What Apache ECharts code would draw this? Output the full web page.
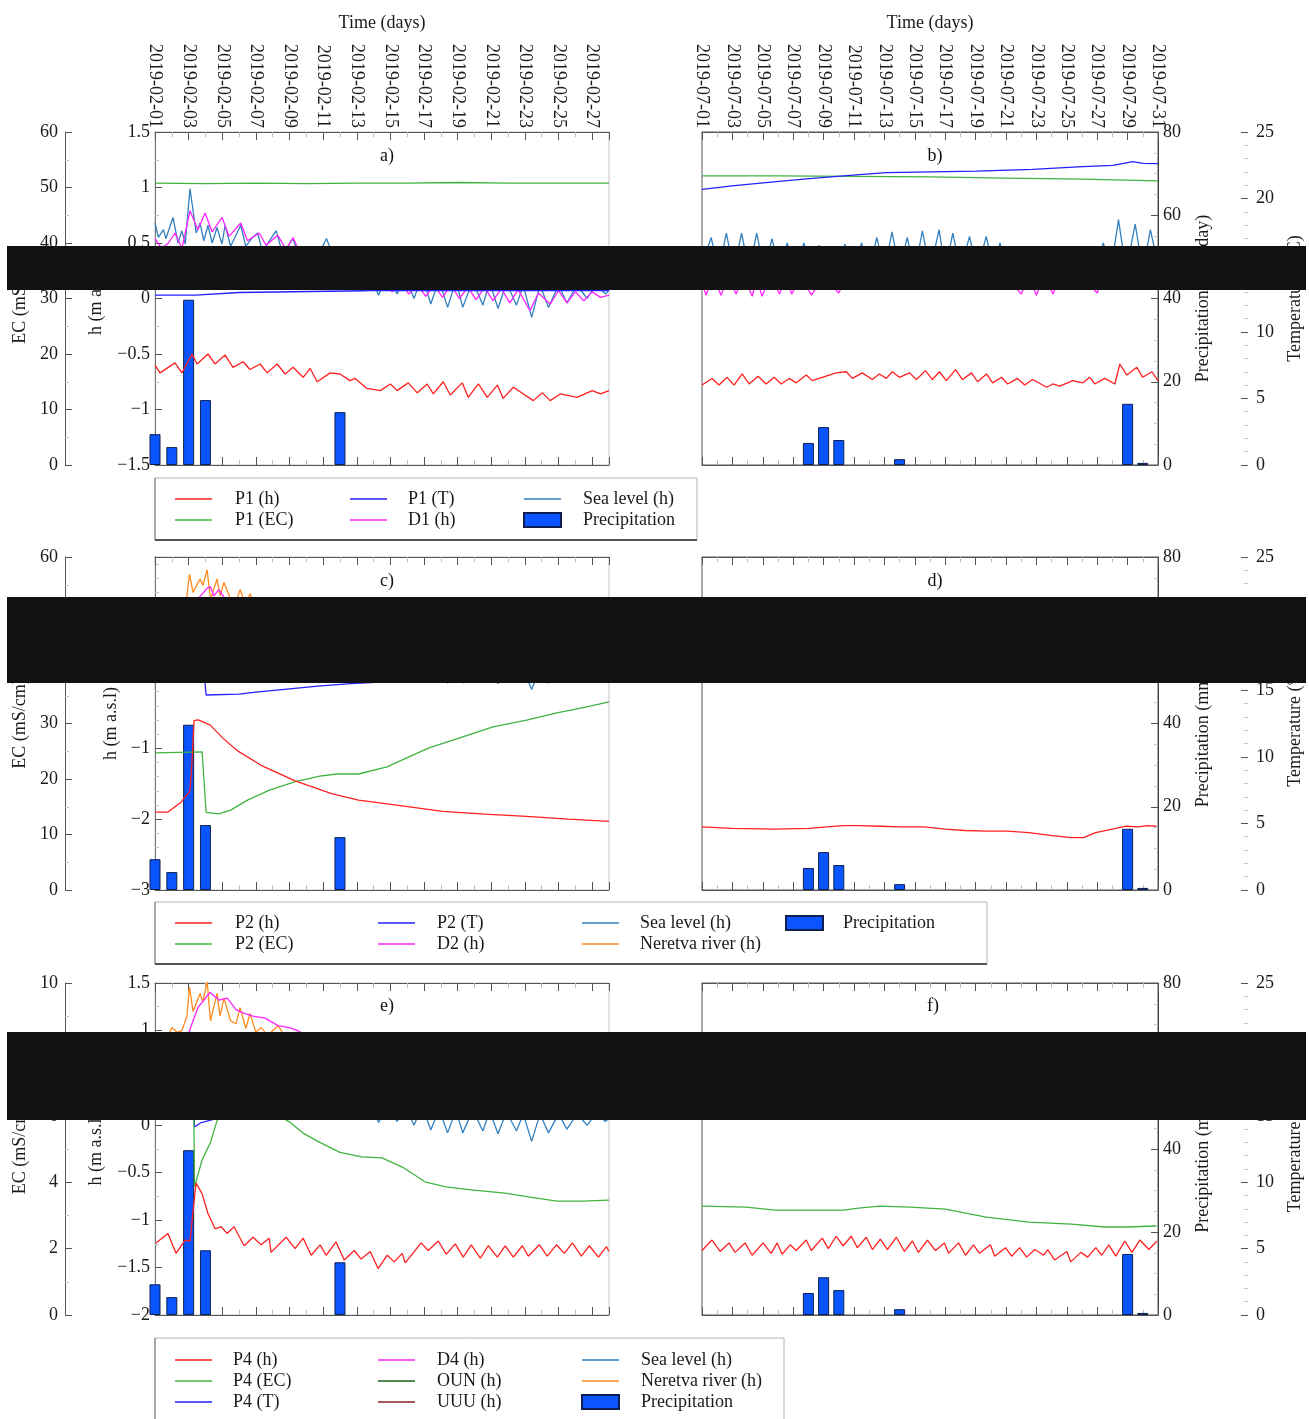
<!DOCTYPE html>
<html>
<head>
<meta charset="utf-8">
<script src="https://cdn.jsdelivr.net/npm/echarts/dist/echarts.min.js"></script>
<style>
  html, body { margin: 0; padding: 0; background: #fff; }
  #chart { width: 1309px; height: 1419px; }
</style>
</head>
<body>
<div id="chart"></div>
<script>
// tick labels of the top time axes
var febTickLabels = ['2019-02-01','2019-02-03','2019-02-05','2019-02-07','2019-02-09','2019-02-11','2019-02-13',
  '2019-02-15','2019-02-17','2019-02-19','2019-02-21','2019-02-23','2019-02-25','2019-02-27'];
var julTickLabels = ['2019-07-01','2019-07-03','2019-07-05','2019-07-07','2019-07-09','2019-07-11','2019-07-13',
  '2019-07-15','2019-07-17','2019-07-19','2019-07-21','2019-07-23','2019-07-25','2019-07-27','2019-07-29','2019-07-31'];

// x = days since the first day of the month
// precipitation (mm/day)
var febRain = [[0, 7.4], [1, 4.3], [2, 39.7], [3, 15.6], [11, 12.7]];
var julRain = [[7, 5.3], [8, 9.1], [9, 6.0], [13, 1.4], [28, 14.7], [29, 0.5]];

// sea level (h)
var seaFeb = [[0,0.68],[0.2,0.55],[0.5,0.62],[0.65,0.54],[1.07,0.73],[1.37,0.50],[1.6,0.61],[1.8,0.49],[2.08,0.99],
  [2.45,0.59],[2.68,0.68],[2.9,0.52],[3.15,0.66],[3.4,0.50],[3.69,0.64],[3.98,0.49],[4.17,0.66],[4.5,0.47],[5.1,0.66],
  [5.4,0.47],[5.8,0.55],[6.1,0.59],[6.4,0.42],[6.8,0.52],[7.2,0.61],[7.6,0.40],[8.2,0.54],[8.6,0.36],[9.0,0.45],
  [9.3,0.30],[9.8,0.42],[10.2,0.54],[10.6,0.38],[10.9,0.46],[11.3,0.28],[11.8,0.32],[12.2,0.15],[12.7,0.25],
  [13.3,0.03],[13.8,0.22],[14.4,0.04],[14.9,0.2],[15.4,0.0],[15.9,0.2],[16.4,-0.05],[16.9,0.17],[17.4,-0.08],
  [17.9,0.16],[18.3,-0.08],[18.9,0.16],[19.5,-0.06],[19.9,0.15],[20.4,-0.09],[20.9,0.14],[21.5,-0.06],[21.9,0.12],
  [22.4,-0.17],[22.9,0.12],[23.4,-0.08],[24.0,0.12],[24.5,-0.04],[25.1,0.12],[25.7,0.0],[26.2,0.12],[26.8,0.04],[27,0.08]];
var seaJul = [[0,0.3],[0.6,0.55],[1.1,0.25],[1.6,0.59],[2.1,0.25],[2.6,0.59],[3.1,0.25],[3.6,0.59],[4.1,0.25],[4.6,0.54],
  [5.1,0.25],[5.6,0.50],[6.2,0.25],[6.7,0.50],[7.2,0.25],[7.7,0.48],[8.2,0.25],[8.6,0.46],[9.0,0.25],[9.4,0.49],
  [10.0,0.25],[10.5,0.50],[11.0,0.25],[11.5,0.55],[12.0,0.25],[12.5,0.60],[13.0,0.25],[13.5,0.55],[14.0,0.25],
  [14.5,0.61],[15.0,0.25],[15.6,0.62],[16.0,0.25],[16.5,0.59],[17.0,0.25],[17.6,0.56],[18.1,0.25],[18.7,0.56],
  [19.2,0.25],[19.6,0.50],[20.1,0.25],[20.6,0.44],[21.1,0.25],[21.6,0.42],[22.1,0.25],[22.6,0.40],[23.1,0.25],
  [23.6,0.40],[24.1,0.25],[24.6,0.42],[25.1,0.25],[25.5,0.44],[25.9,0.25],[26.4,0.50],[26.9,0.25],[27.4,0.71],
  [27.9,0.25],[28.5,0.67],[29.0,0.25],[29.5,0.62],[30,0.3]];

// Neretva river (h), February
var neretvaFeb = [[0,0.8],[0.5,0.85],[1.01,1.03],[1.31,0.98],[1.6,1.0],[1.9,1.15],[2.05,1.46],[2.26,1.2],[2.68,1.39],
  [2.85,1.3],[3.1,1.52],[3.3,1.1],[3.69,1.39],[3.87,1.15],[4.1,1.34],[4.5,1.1],[4.82,1.07],[5.06,1.24],[5.4,1.02],
  [5.65,1.18],[6.0,0.98],[6.31,1.03],[6.7,0.95],[7.32,1.05],[7.8,0.92],[8.5,0.95],[9.5,0.85],[11,0.78],[13,0.7],
  [16,0.6],[20,0.52],[24,0.46],[27,0.42]];

// P1 / D1, February
var p1hFeb = [[0,-0.60],[0.3,-0.67],[1.19,-0.58],[1.6,-0.67],[2.2,-0.50],[2.5,-0.59],[3.15,-0.50],[3.57,-0.59],
  [4.17,-0.51],[4.64,-0.62],[5.24,-0.57],[5.65,-0.64],[6.25,-0.59],[6.67,-0.67],[7.26,-0.59],[7.74,-0.68],[8.21,-0.62],
  [8.81,-0.71],[9.23,-0.63],[9.64,-0.75],[10.42,-0.67],[11.0,-0.68],[11.6,-0.74],[11.9,-0.72],[12.6,-0.81],[13.4,-0.83],
  [14.0,-0.77],[14.4,-0.83],[15.06,-0.76],[15.6,-0.85],[16.19,-0.77],[16.55,-0.86],[17.14,-0.75],[17.56,-0.87],
  [18.27,-0.76],[18.63,-0.89],[19.23,-0.77],[19.76,-0.89],[20.36,-0.78],[20.71,-0.90],[21.31,-0.80],[22.5,-0.92],
  [23.04,-0.85],[23.5,-0.92],[24.1,-0.86],[25.1,-0.89],[26.0,-0.83],[26.5,-0.86],[27.0,-0.83]];
var p1ecFeb = [[0,50.8],[3,50.7],[6,50.8],[9,50.7],[12,50.8],[15,50.8],[18,50.9],[21,50.8],[24,50.8],[27,50.8]];
var p1tFeb = [[0,12.75],[2.4,12.75],[2.5,12.9],[5.0,12.95],[5.1,13.05],[12.5,13.08],[13,13.12],[27,13.1]];
var d1hFeb = [[0,0.54],[0.4,0.45],[0.8,0.5],[1.19,0.59],[1.6,0.45],[2.08,0.79],[2.55,0.62],[2.98,0.77],[3.4,0.60],
  [3.99,0.73],[4.4,0.56],[5.1,0.68],[5.5,0.52],[6.2,0.59],[6.6,0.48],[7.3,0.57],[7.8,0.44],[8.21,0.55],[8.7,0.38],
  [9.3,0.42],[9.9,0.32],[10.5,0.34],[11.0,0.24],[11.6,0.26],[12.1,0.16],[12.6,0.2],[13.1,0.08],[13.6,0.16],[14.1,0.06],
  [14.6,0.14],[15.1,0.04],[15.6,0.13],[16.1,0.02],[16.6,0.12],[17.1,0.01],[17.6,0.12],[18.1,0.0],[18.6,0.1],
  [19.1,-0.01],[19.6,0.1],[20.1,-0.02],[20.6,0.09],[21.1,-0.04],[21.6,0.08],[22.3,-0.11],[22.8,0.05],[23.5,-0.05],
  [24.0,0.07],[24.5,-0.04],[25.0,0.06],[25.5,-0.02],[26.0,0.06],[26.5,0.01],[27,0.03]];

// P1 / D1, July
var p1hJul = [[0,-0.78],[0.66,-0.72],[1.12,-0.78],[1.65,-0.71],[2.11,-0.78],[2.64,-0.68],[3.1,-0.77],[3.69,-0.70],
  [4.22,-0.77],[4.75,-0.71],[5.21,-0.77],[5.74,-0.72],[6.2,-0.76],[6.86,-0.69],[7.25,-0.74],[7.91,-0.71],[8.83,-0.67],
  [9.49,-0.66],[9.89,-0.72],[10.55,-0.67],[11.2,-0.73],[11.67,-0.68],[12.13,-0.72],[12.52,-0.66],[12.99,-0.71],
  [13.65,-0.67],[14.11,-0.73],[14.7,-0.65],[15.16,-0.73],[15.62,-0.66],[16.08,-0.74],[16.68,-0.64],[17.14,-0.73],
  [17.73,-0.67],[18.13,-0.75],[18.72,-0.68],[19.12,-0.76],[19.71,-0.71],[20.11,-0.77],[20.76,-0.72],[21.23,-0.78],
  [21.75,-0.73],[22.68,-0.80],[23.07,-0.77],[23.53,-0.79],[24.39,-0.74],[25.05,-0.76],[25.51,-0.71],[25.84,-0.77],
  [26.5,-0.72],[27.16,-0.77],[27.49,-0.59],[27.95,-0.69],[28.61,-0.62],[29.0,-0.71],[29.6,-0.66],[30.0,-0.74]];
var p1ecJul = [[0,52.1],[5,52.1],[10,52.0],[15,51.9],[20,51.7],[25,51.5],[30,51.2]];
var p1tJul = [[0,20.7],[1.98,20.95],[4.88,21.27],[7.05,21.5],[10.35,21.8],[12.13,21.95],[18.06,22.07],[21.75,22.2],
  [25.05,22.4],[27.03,22.5],[28.35,22.77],[29.0,22.65],[30,22.62]];
var d1hJul = [[0,0.15],[0.26,0.03],[0.75,0.2],[1.25,0.03],[1.75,0.2],[2.24,0.04],[2.75,0.2],[3.3,0.02],[3.6,0.18],
  [3.95,0.02],[4.5,0.2],[5.1,0.04],[5.5,0.2],[5.9,0.04],[6.5,0.2],[7.2,0.03],[8,0.2],[9.0,0.05],[9.5,0.2],[10.5,0.12],
  [11,0.2],[12,0.12],[12.5,0.22],[13.5,0.12],[14,0.22],[15,0.12],[15.5,0.22],[16.5,0.12],[17,0.22],[18,0.12],
  [18.5,0.2],[19.5,0.12],[20,0.2],[21,0.04],[21.5,0.2],[22,0.03],[22.5,0.2],[23.1,0.04],[23.5,0.2],[24.5,0.12],
  [25,0.2],[26,0.05],[26.5,0.22],[27.5,0.14],[28,0.25],[29,0.14],[29.5,0.25],[30,0.18]];

// P2 / D2, February
var p2hFeb = [[0,-1.9],[0.77,-1.9],[1.55,-1.76],[2.08,-1.6],[2.2,-1.2],[2.32,-0.61],[2.56,-0.6],[3.27,-0.67],
  [4.05,-0.86],[4.94,-1.04],[6.31,-1.24],[8.33,-1.46],[10.5,-1.64],[12.1,-1.73],[14.6,-1.81],[17.1,-1.89],
  [19.6,-1.93],[22.1,-1.96],[24.6,-2.0],[27,-2.03]];
var p2ecFeb = [[0,24.7],[2.8,24.9],[3.04,14.0],[3.8,13.7],[4.5,14.4],[5.5,16.2],[6.8,18.0],[8.3,19.5],[9.8,20.5],
  [10.8,20.9],[12.1,20.9],[13.8,22.2],[15.1,24.0],[16.3,25.6],[18.3,27.6],[20.1,29.4],[22.1,30.6],[23.9,31.9],
  [25.4,32.8],[27,33.9]];
var p2tFeb = [[0,15.8],[2.95,15.8],[3.04,14.64],[5,14.7],[6,14.85],[9.7,15.3],[11.6,15.5],[15,15.7],[20,15.8],
  [25,15.95],[26.5,16.07],[27,16.07]];
var d2hFeb = [[0,0.7],[1,0.8],[2,0.95],[2.5,1.1],[2.9,1.2],[3.1,1.26],[3.3,1.28],[3.5,1.15],[3.8,1.24],[4.2,1.1],
  [5,1.0],[6,0.9],[8,0.7],[10,0.5],[14,0.3],[18,0.2],[22,0.1],[27,0.1]];

// P2 / D2, July
var p2hJul = [[0,-2.11],[2.0,-2.13],[4.8,-2.14],[7.05,-2.13],[8.2,-2.11],[9.3,-2.09],[10.3,-2.09],[11.7,-2.10],
  [13.1,-2.11],[14.6,-2.11],[16.0,-2.14],[17.3,-2.16],[18.7,-2.17],[20.1,-2.17],[21.5,-2.19],[22.9,-2.23],
  [24.3,-2.26],[25.1,-2.26],[25.9,-2.19],[27.0,-2.14],[27.9,-2.10],[28.7,-2.11],[29.3,-2.09],[29.9,-2.10]];
var p2ecJul = [[0,45],[15,45.5],[30,44.5]];
var p2tJul = [[0,16.4],[15,16.4],[25,16.3],[30,16.1]];
var d2hJul = [[0,0.2],[15,0.22],[30,0.2]];

// P4 / D4 / OUN / UUU, February
var p4hFeb = [[0.06,-1.24],[0.77,-1.14],[1.25,-1.35],[1.79,-1.21],[2.08,-1.22],[2.44,-0.61],[2.80,-0.72],[3.15,-0.93],
  [3.57,-1.09],[3.93,-1.07],[4.29,-1.14],[4.70,-1.07],[5.30,-1.27],[5.83,-1.18],[6.31,-1.26],[6.79,-1.19],[6.90,-1.34],
  [7.80,-1.18],[8.33,-1.30],[8.81,-1.19],[9.29,-1.37],[9.82,-1.26],[10.18,-1.37],[10.77,-1.23],[11.25,-1.42],
  [11.85,-1.32],[12.26,-1.41],[12.80,-1.33],[13.27,-1.51],[13.81,-1.37],[14.23,-1.44],[14.70,-1.35],[14.88,-1.45],
  [15.83,-1.24],[16.25,-1.32],[16.85,-1.22],[17.32,-1.36],[17.86,-1.25],[18.33,-1.39],[18.81,-1.26],[19.35,-1.40],
  [19.82,-1.27],[20.36,-1.39],[20.83,-1.27],[21.31,-1.39],[21.85,-1.27],[22.20,-1.38],[22.86,-1.26],[23.33,-1.38],
  [23.87,-1.26],[24.35,-1.35],[24.82,-1.24],[25.36,-1.38],[25.83,-1.27],[26.37,-1.39],[26.85,-1.28],[27.0,-1.33]];
var p4ecFeb = [[0,6.7],[2.3,6.7],[2.35,3.86],[2.8,4.67],[3.3,5.2],[3.7,5.87],[4.5,6.4],[6,6.4],[7,6.1],[8.05,5.8],
  [8.8,5.48],[9.8,5.2],[11.0,4.9],[12.3,4.76],[13.5,4.73],[14.8,4.43],[16.1,4.0],[17.3,3.86],[18.8,3.77],[20.8,3.67],
  [22.3,3.55],[23.9,3.43],[25.4,3.43],[27,3.46]];
var p4tFeb = [[0,15.95],[2.3,15.95],[2.35,14.15],[2.7,14.46],[3.7,14.8],[6,15.3],[8.3,15.65],[11,15.8],[27,15.82]];
var d4hFeb = [[0,0.7],[1.5,0.8],[2.0,0.95],[2.05,1.0],[2.55,1.24],[3.27,1.40],[3.81,1.32],[4.29,1.34],[4.82,1.22],
  [5.3,1.18],[5.83,1.15],[6.55,1.13],[7.32,1.05],[8.0,1.03],[8.45,1.0],[10,0.85],[13,0.7],[17,0.6],[22,0.5],[27,0.45]];
var ounFeb = [[0,0.65],[2,0.7],[3,0.8],[5,0.7],[8,0.6],[12,0.5],[16,0.5],[20,0.5],[27,0.48]];
var uuuFeb = [[0,0.6],[3,0.7],[6,0.6],[10,0.5],[15,0.45],[20,0.45],[27,0.42]];

// P4 / D4 / OUN / UUU, July
var p4hJul = [[0,-1.32],[0.66,-1.21],[1.19,-1.33],[1.78,-1.24],[2.18,-1.34],[2.83,-1.24],[3.30,-1.37],[4.02,-1.24],
  [4.55,-1.35],[4.94,-1.24],[5.27,-1.36],[5.80,-1.26],[6.20,-1.32],[6.86,-1.21],[7.19,-1.32],[7.91,-1.19],[8.31,-1.30],
  [8.83,-1.17],[9.29,-1.27],[9.82,-1.17],[10.22,-1.29],[10.81,-1.18],[11.21,-1.31],[11.73,-1.20],[12.20,-1.31],
  [12.79,-1.18],[13.32,-1.33],[13.84,-1.22],[14.24,-1.34],[14.83,-1.21],[15.36,-1.32],[15.95,-1.24],[16.22,-1.35],
  [16.88,-1.24],[17.34,-1.37],[17.86,-1.26],[18.26,-1.35],[18.98,-1.26],[19.25,-1.38],[19.97,-1.29],[20.37,-1.38],
  [20.90,-1.29],[21.36,-1.39],[21.89,-1.31],[22.48,-1.37],[22.74,-1.31],[23.20,-1.42],[24.00,-1.33],[24.26,-1.44],
  [24.92,-1.34],[25.38,-1.39],[25.91,-1.29],[26.30,-1.37],[26.76,-1.26],[27.22,-1.38],[27.82,-1.22],[28.28,-1.34],
  [28.81,-1.21],[29.40,-1.31],[29.93,-1.22]];
var p4ecJul = [[0,3.28],[2.9,3.25],[4.8,3.16],[9.3,3.16],[10.3,3.22],[11.7,3.28],[13.7,3.25],[16.0,3.19],[18.7,2.95],
  [21.5,2.8],[24.3,2.74],[26.5,2.65],[27.9,2.65],[29.9,2.68]];
var p4tJul = [[0,15.36],[5,15.36],[11.3,15.4]];
var d4hJul = [[0,0.35],[10,0.38],[20,0.33],[30,0.35]];
var ounJul = [[0,0.5],[8,0.52],[15,0.5],[22,0.48],[30,0.52]];
var uuuJul = [[0,0.44],[10,0.45],[20,0.43],[30,0.46]];

var FONT = 'Liberation Serif';
var txt = { fontFamily: FONT, fontSize: 18, color: '#1a1a1a' };
var COL = {
  red: '#ff2020', green: '#40b440', blue: '#2222ff', magenta: '#ff22ff', sea: '#3380c0',
  orange: '#ff8a1e', dkgreen: '#1e5c1e', dkred: '#8c2020', rain: '#0a55ff'
};

function fmtNum(v) {
  var s = String(Math.round(v * 100) / 100);
  return v < 0 ? '\u2212' + s.slice(1) : s;
}

var chart = echarts.init(document.getElementById('chart'));

// six panels: a b / c d / e f
var grids = [
  { left: 155, top: 132, width: 454, height: 333 },
  { left: 702, top: 132, width: 456, height: 333 },
  { left: 155, top: 557, width: 454, height: 333 },
  { left: 702, top: 557, width: 456, height: 333 },
  { left: 155, top: 983, width: 454, height: 332 },
  { left: 702, top: 983, width: 456, height: 332 }
];
grids.forEach(function (g, i) {
  g.show = true;
  g.backgroundColor = 'transparent';
  g.borderWidth = 1;
  g.borderColor = (i % 2 === 0) ? '#c4c4c4' : '#555';
});

var xAxes = [];
function addX(gi, isFeb, withLabels) {
  var labels = isFeb ? febTickLabels : julTickLabels;
  var base = {
    gridIndex: gi, type: 'value', min: 0, max: isFeb ? 27 : 30, interval: 2,
    axisLine: { show: true, onZero: false, lineStyle: { color: '#555', width: 1 } },
    axisTick: { show: true, inside: true, length: 8, lineStyle: { color: '#555' } },
    minorTick: { show: true, splitNumber: 2, length: 5, lineStyle: { color: '#bdbdbd' } },
    splitLine: { show: false }
  };
  var bottom = Object.assign({}, base, { position: 'bottom', axisLabel: { show: false } });
  var top = Object.assign({}, base, { position: 'top' });
  if (withLabels) {
    top.axisLabel = {
      show: true, rotate: 90, margin: 4, fontFamily: FONT, fontSize: 18, color: '#1a1a1a',
      formatter: function (v) { return (v % 2 === 0 && labels[v / 2]) ? labels[v / 2] : ''; }
    };
    top.name = 'Time (days)';
    top.nameLocation = 'middle';
    top.nameGap = 100;
    top.nameTextStyle = txt;
  } else {
    top.axisLabel = { show: false };
  }
  xAxes.push(bottom, top);
}

var yAxes = [];
function tickFmt(interval) {
  return function (v) {
    if (Math.abs(v / interval - Math.round(v / interval)) > 1e-6) return '';
    return fmtNum(v);
  };
}
function addY(gi, c) {
  var left = gi % 2 === 0;
  var common = function (o) {
    return Object.assign({
      gridIndex: gi, type: 'value', splitLine: { show: false },
      axisLine: { show: true, onZero: false, lineStyle: { color: '#555' } },
      axisTick: { show: true, inside: true, length: 7, lineStyle: { color: '#555' } },
      nameLocation: 'middle', nameTextStyle: txt
    }, o);
  };
  // EC
  yAxes.push(common({
    show: left, position: 'left', offset: 90, min: 0, max: c.ecMax, interval: c.ecInt,
    name: 'EC (mS/cm)', nameGap: 36,
    minorTick: { show: true, splitNumber: 2, length: 4, lineStyle: { color: '#c4c4c4' } },
    axisLabel: { margin: 7, fontFamily: FONT, fontSize: 18, color: '#1a1a1a', formatter: tickFmt(c.ecInt) }
  }));
  // h
  yAxes.push(common({
    show: left, position: 'left', min: c.hMin, max: c.hMax, interval: c.hInt,
    name: 'h (m a.s.l)', nameGap: c.hGap,
    axisLine: { show: true, onZero: false, lineStyle: { color: '#777' } },
    minorTick: { show: true, splitNumber: c.hMinor, length: 4, lineStyle: { color: '#c4c4c4' } },
    axisLabel: { margin: 5, fontFamily: FONT, fontSize: 18, color: '#1a1a1a', formatter: tickFmt(c.hInt) }
  }));
  // temperature
  yAxes.push(common({
    show: !left, position: 'right', offset: 90, min: 0, max: 25, interval: 5,
    name: 'Temperature (\u00b0C)', nameGap: 38,
    axisLine: { show: false, onZero: false },
    minorTick: { show: true, splitNumber: 5, length: 4, lineStyle: { color: '#c4c4c4' } },
    axisLabel: { margin: 8, fontFamily: FONT, fontSize: 18, color: '#1a1a1a', formatter: tickFmt(5) }
  }));
  // precipitation
  yAxes.push(common({
    show: !left, position: 'right', min: 0, max: 80, interval: 20,
    name: 'Precipitation (mm/day)', nameGap: 36,
    axisLine: { show: true, onZero: false, lineStyle: { color: '#444' } },
    minorTick: { show: true, splitNumber: 4, length: 4, lineStyle: { color: '#c4c4c4' } },
    axisLabel: { margin: 5, fontFamily: FONT, fontSize: 18, color: '#1a1a1a', formatter: tickFmt(20) }
  }));
}

var AX = { ec: 0, h: 1, t: 2, p: 3 };
var series = [];
function addLine(name, data, gi, axis, color) {
  series.push({
    type: 'line', name: name, data: data, xAxisIndex: gi * 2, yAxisIndex: gi * 4 + AX[axis],
    symbol: 'none', showSymbol: false, lineStyle: { color: color, width: 1.3 }, itemStyle: { color: color },
    z: 3
  });
}
function addRain(data, gi) {
  series.push({
    type: 'bar', name: 'Precipitation', data: data, xAxisIndex: gi * 2, yAxisIndex: gi * 4 + AX.p,
    barWidth: 11, itemStyle: { color: COL.rain, borderColor: '#0c1f4f', borderWidth: 1 }, z: 1
  });
}

var cfgAB = { ecMax: 60, ecInt: 10, hMin: -1.5, hMax: 1.5, hInt: 0.5, hMinor: 2, hGap: 50 };
var cfgCD = { ecMax: 60, ecInt: 10, hMin: -3, hMax: 1.7, hInt: 1, hMinor: 5, hGap: 35 };
var cfgEF = { ecMax: 10, ecInt: 2, hMin: -2, hMax: 1.5, hInt: 0.5, hMinor: 2, hGap: 50 };

// panel a
addX(0, true, true); addY(0, cfgAB);
addRain(febRain, 0);
addLine('P1 (EC)', p1ecFeb, 0, 'ec', COL.green);
addLine('Sea level (h)', seaFeb, 0, 'h', COL.sea);
addLine('D1 (h)', d1hFeb, 0, 'h', COL.magenta);
addLine('P1 (T)', p1tFeb, 0, 't', COL.blue);
addLine('P1 (h)', p1hFeb, 0, 'h', COL.red);
// panel b
addX(1, false, true); addY(1, cfgAB);
addRain(julRain, 1);
addLine('P1 (EC)', p1ecJul, 1, 'ec', COL.green);
addLine('Sea level (h)', seaJul, 1, 'h', COL.sea);
addLine('D1 (h)', d1hJul, 1, 'h', COL.magenta);
addLine('P1 (T)', p1tJul, 1, 't', COL.blue);
addLine('P1 (h)', p1hJul, 1, 'h', COL.red);
// panel c
addX(2, true, false); addY(2, cfgCD);
addRain(febRain, 2);
addLine('Sea level (h)', seaFeb, 2, 'h', COL.sea);
addLine('Neretva river (h)', neretvaFeb, 2, 'h', COL.orange);
addLine('D2 (h)', d2hFeb, 2, 'h', COL.magenta);
addLine('P2 (T)', p2tFeb, 2, 't', COL.blue);
addLine('P2 (EC)', p2ecFeb, 2, 'ec', COL.green);
addLine('P2 (h)', p2hFeb, 2, 'h', COL.red);
// panel d
addX(3, false, false); addY(3, cfgCD);
addRain(julRain, 3);
addLine('Sea level (h)', seaJul, 3, 'h', COL.sea);
addLine('D2 (h)', d2hJul, 3, 'h', COL.magenta);
addLine('P2 (EC)', p2ecJul, 3, 'ec', COL.green);
addLine('P2 (T)', p2tJul, 3, 't', COL.blue);
addLine('P2 (h)', p2hJul, 3, 'h', COL.red);
// panel e
addX(4, true, false); addY(4, cfgEF);
addRain(febRain, 4);
addLine('Sea level (h)', seaFeb, 4, 'h', COL.sea);
addLine('Neretva river (h)', neretvaFeb, 4, 'h', COL.orange);
addLine('D4 (h)', d4hFeb, 4, 'h', COL.magenta);
addLine('OUN (h)', ounFeb, 4, 'h', COL.dkgreen);
addLine('UUU (h)', uuuFeb, 4, 'h', COL.dkred);
addLine('P4 (T)', p4tFeb, 4, 't', COL.blue);
addLine('P4 (EC)', p4ecFeb, 4, 'ec', COL.green);
addLine('P4 (h)', p4hFeb, 4, 'h', COL.red);
// panel f
addX(5, false, false); addY(5, cfgEF);
addRain(julRain, 5);
addLine('Sea level (h)', seaJul, 5, 'h', COL.sea);
addLine('D4 (h)', d4hJul, 5, 'h', COL.magenta);
addLine('OUN (h)', ounJul, 5, 'h', COL.dkgreen);
addLine('UUU (h)', uuuJul, 5, 'h', COL.dkred);
addLine('P4 (T)', p4tJul, 5, 't', COL.blue);
addLine('P4 (EC)', p4ecJul, 5, 'ec', COL.green);
addLine('P4 (h)', p4hJul, 5, 'h', COL.red);

// legends: one vertical legend per column
var LINE_ICON = 'path://M0,0H37V1.6H0Z';
function legendCol(left, top, names, pad) {
  return {
    orient: 'vertical', left: left, top: top, padding: 0, itemWidth: 37, itemHeight: 14, itemGap: 3,
    height: 120, selectedMode: false,
    data: names.map(function (n) { return { name: n, icon: n === 'Precipitation' ? 'rect' : LINE_ICON }; }),
    textStyle: { fontFamily: FONT, fontSize: 18, color: '#1a1a1a', lineHeight: 18, padding: [0, 0, 0, pad] }
  };
}
var legends = [
  legendCol(175, 490, ['P1 (h)', 'P1 (EC)'], 18),
  legendCol(350, 490, ['P1 (T)', 'D1 (h)'], 16),
  legendCol(523, 490, ['Sea level (h)', 'Precipitation'], 17),
  legendCol(175, 914, ['P2 (h)', 'P2 (EC)'], 18),
  legendCol(378, 914, ['P2 (T)', 'D2 (h)'], 17),
  legendCol(582, 914, ['Sea level (h)', 'Neretva river (h)'], 16),
  legendCol(785, 914, ['Precipitation'], 15),
  legendCol(175, 1351, ['P4 (h)', 'P4 (EC)', 'P4 (T)'], 16),
  legendCol(378, 1351, ['D4 (h)', 'OUN (h)', 'UUU (h)'], 17),
  legendCol(581, 1351, ['Sea level (h)', 'Neretva river (h)', 'Precipitation'], 17)
];

function box(x, y, w, h) {
  return [
    { type: 'rect', shape: { x: x, y: y, width: w, height: h }, style: { fill: 'none', stroke: '#b4b4b4', lineWidth: 1 }, z: 50 },
    { type: 'line', shape: { x1: x, y1: y + h, x2: x + w, y2: y + h }, style: { stroke: '#555', lineWidth: 2 }, z: 51 },
    { type: 'line', shape: { x1: x, y1: y, x2: x, y2: y + h }, style: { stroke: '#777', lineWidth: 1 }, z: 51 }
  ];
}
function panelLabel(t, x, y) {
  return { type: 'text', x: x, y: y, z: 60, style: { text: t, font: '18px "Liberation Serif"', fill: '#111', textAlign: 'center', textVerticalAlign: 'middle' } };
}
function band(y, h) {
  return { type: 'rect', shape: { x: 7, y: y, width: 1299, height: h }, style: { fill: '#111' }, z: 100 };
}

var graphics = [].concat(
  box(155, 478, 542, 62), box(155, 902, 832, 62), box(155, 1338, 629, 90),
  [panelLabel('a)', 387, 156), panelLabel('b)', 935, 156), panelLabel('c)', 387, 581),
   panelLabel('d)', 935, 581), panelLabel('e)', 387, 1006), panelLabel('f)', 933, 1006)],
  [band(246, 44), band(597, 86), band(1032, 88)]
);

chart.setOption({
  animation: false,
  backgroundColor: '#fff',
  grid: grids,
  xAxis: xAxes,
  yAxis: yAxes,
  legend: legends,
  series: series,
  graphic: graphics
});
</script>
</body>
</html>
